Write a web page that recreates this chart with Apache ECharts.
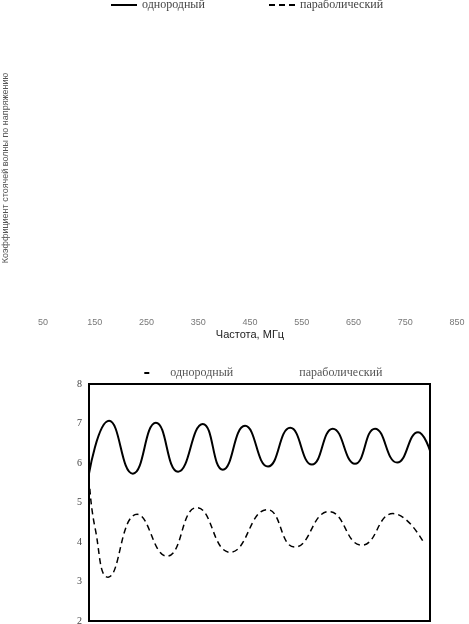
<!DOCTYPE html>
<html>
<head>
<meta charset="utf-8">
<script src="https://cdn.jsdelivr.net/npm/echarts@6/dist/echarts.min.js"></script>
<style>
html, body { margin: 0; padding: 0; background: #fff; }
#main { width: 469px; height: 624px; }
</style>
</head>
<body>
<div id="main"></div>
<script>
var seriesNames = ['однородный', 'параболический']
var freqLabels = ['50', '150', '250', '350', '450', '550', '650', '750', '850']
var yTitle = 'Коэффициент стоячей волны по напряжению'
var xTitle = 'Частота, МГц'

// однородный: [частота, значение]
var uniformData = [
    [50, 5.73], [97, 7.07], [153, 5.73], [207, 7.02], [259, 5.78],
    [317, 6.99], [364, 5.83], [416, 6.94], [470, 5.91], [522, 6.89],
    [573, 5.96], [622, 6.87], [674, 5.98], [721, 6.87], [773, 6.01],
    [822, 6.78], [850, 6.31]
]
// параболический
var parabolicData = [
    [52, 5.35], [64, 4.37], [95, 3.11], [163, 4.70], [233, 3.64],
    [303, 4.87], [381, 3.74], [468, 4.82], [533, 3.87], [613, 4.77],
    [690, 3.92], [763, 4.72], [836, 3.97]
]

var myChart = echarts.init(document.getElementById('main'), null, {renderer: 'canvas'})

var option = {
    animation: false,
    backgroundColor: '#fff',
    legend: [
        {
            data: [seriesNames[0]], left: 110, top: -1, padding: 0,
            itemWidth: 26, itemHeight: 12, itemStyle: {opacity: 0},
            textStyle: {fontFamily: 'Liberation Serif', fontSize: 12, color: '#444'}
        },
        {
            data: [seriesNames[1]], left: 268, top: -1, padding: 0,
            itemWidth: 26, itemHeight: 12, itemStyle: {opacity: 0},
            textStyle: {fontFamily: 'Liberation Serif', fontSize: 12, color: '#444'}
        },
        {
            data: [seriesNames[0]], left: 142, top: 367, padding: 0,
            itemWidth: 5, itemHeight: 12, itemStyle: {opacity: 0},
            textStyle: {fontFamily: 'Liberation Serif', fontSize: 12, color: '#555', padding: [0, 0, 0, 16]}
        },
        {
            data: [seriesNames[1]], left: 287, top: 367, padding: 0,
            itemWidth: 5, itemHeight: 12,
            lineStyle: {opacity: 0}, itemStyle: {opacity: 0},
            textStyle: {fontFamily: 'Liberation Serif', fontSize: 12, color: '#555'}
        }
    ],
    grid: [
        {left: 43, right: 12, top: 24, bottom: 312, outerBoundsMode: 'none'},
        {left: 89, right: 39, top: 384, bottom: 3, outerBoundsMode: 'none',
            show: true, borderColor: '#000', borderWidth: 2}
    ],
    xAxis: [
        {
            gridIndex: 0, type: 'category', data: freqLabels, boundaryGap: false,
            axisLine: {show: false}, axisTick: {show: false}, splitLine: {show: false},
            axisLabel: {margin: 6, fontSize: 9, color: '#777', fontFamily: 'Liberation Sans'},
            name: xTitle, nameLocation: 'middle', nameGap: 17,
            nameTextStyle: {fontSize: 11, color: '#222', fontFamily: 'Liberation Sans'}
        },
        {
            gridIndex: 1, type: 'value', min: 50, max: 850,
            axisLine: {show: false}, axisTick: {show: false}, splitLine: {show: false},
            axisLabel: {show: false}
        }
    ],
    yAxis: [
        {
            gridIndex: 0, type: 'value',
            axisLine: {show: false}, axisTick: {show: false}, splitLine: {show: false},
            axisLabel: {show: false},
            name: yTitle, nameLocation: 'middle', nameGap: 33, nameRotate: 90,
            nameTextStyle: {fontSize: 9, color: '#555', fontFamily: 'Liberation Sans'}
        },
        {
            gridIndex: 1, type: 'value', min: 2, max: 8, interval: 1,
            axisLine: {show: false}, axisTick: {show: false}, splitLine: {show: false},
            axisLabel: {margin: 7, fontSize: 10, color: '#444', fontFamily: 'Liberation Serif'}
        }
    ],
    series: [
        {
            name: seriesNames[0], type: 'line', xAxisIndex: 1, yAxisIndex: 1,
            data: uniformData, smooth: 0.5, symbol: 'none',
            lineStyle: {color: '#000', width: 2, type: 'solid'},
            itemStyle: {color: '#000'}
        },
        {
            name: seriesNames[1], type: 'line', xAxisIndex: 1, yAxisIndex: 1,
            data: parabolicData, smooth: 0.5, symbol: 'none',
            lineStyle: {color: '#000', width: 1.5, type: [6, 4]},
            itemStyle: {color: '#000'}
        }
    ]
}

myChart.setOption(option)
</script>
</body>
</html>
